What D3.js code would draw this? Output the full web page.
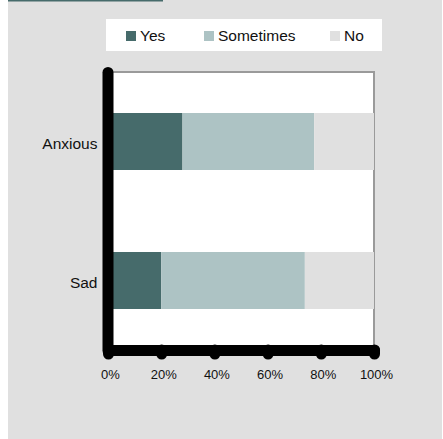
<!DOCTYPE html>
<html>
<head>
<meta charset="utf-8">
<script src="https://cdn.jsdelivr.net/npm/d3@7"></script>
<style>
  html, body { margin: 0; padding: 0; background: #ffffff; }
  svg { display: block; }
  text { font-family: "Liberation Sans", Arial, sans-serif; fill: #111; }
</style>
</head>
<body>
<svg id="chart" width="443" height="439"></svg>
<script>
// Survey responses, share of respondents per answer
const categories = ["Anxious", "Sad"];
const answers = ["Yes", "Sometimes", "No"];
const yesValues = [0.28, 0.20];
const sometimesValues = [0.495, 0.54];
const noValues = [0.225, 0.26];
const tickValues = [0, 0.2, 0.4, 0.6, 0.8, 1];

const colors = { Yes: "#466b6b", Sometimes: "#adc3c4", No: "#e0e0e0" };

const rows = categories.map((c, i) => ({
  category: c,
  Yes: yesValues[i],
  Sometimes: sometimesValues[i],
  No: noValues[i]
}));

const svg = d3.select("#chart");
const W = 443, H = 439;

// panel background and header rule
svg.append("rect").attr("x", 8).attr("y", 0).attr("width", W - 9).attr("height", H)
  .attr("fill", "#e0e0e0");
svg.append("rect").attr("x", 8).attr("y", 0).attr("width", 155).attr("height", 1.5)
  .attr("fill", "#466b6b");

const plot = { left: 108, right: 374, top: 72, bottom: 350 };

const x = d3.scaleLinear().domain([0, 1]).range([plot.left, plot.right]);
const y = d3.scaleBand().domain(categories).range([plot.top, plot.bottom])
  .paddingInner(0.59).paddingOuter(0.295);

// plot area
svg.append("rect")
  .attr("x", plot.left).attr("y", plot.top)
  .attr("width", plot.right - plot.left).attr("height", plot.bottom - plot.top)
  .attr("fill", "#ffffff").attr("stroke", "#9a9a9a").attr("stroke-width", 2);

// stacked bars
const stacked = d3.stack().keys(answers)(rows);
svg.append("g").selectAll("g").data(stacked).join("g")
  .attr("fill", d => colors[d.key])
  .selectAll("rect").data(d => d).join("rect")
  .attr("x", d => x(d[0]))
  .attr("y", d => y(d.data.category))
  .attr("width", d => x(d[1]) - x(d[0]))
  .attr("height", y.bandwidth());

// x axis
const xAxis = svg.append("g")
  .attr("transform", `translate(0,${plot.bottom})`)
  .call(d3.axisBottom(x).tickValues(tickValues).tickFormat(d3.format(".0%"))
    .tickSize(4).tickSizeOuter(0).tickPadding(16));
xAxis.select(".domain").attr("stroke", "#000").attr("stroke-width", 11)
  .attr("stroke-linecap", "round");
xAxis.selectAll(".tick line").attr("stroke", "#000").attr("stroke-width", 11)
  .attr("stroke-linecap", "round");
xAxis.selectAll(".tick text")
  .attr("font-size", 13).attr("dx", 2)
  .style("font-family", "'Liberation Sans', Arial, sans-serif").attr("fill", "#111");

// y axis
const yAxis = svg.append("g")
  .attr("transform", `translate(${plot.left - 0.5},0)`)
  .call(d3.axisLeft(y).tickSize(0).tickSizeOuter(0).tickPadding(10));
yAxis.select(".domain").attr("stroke", "#000").attr("stroke-width", 11)
  .attr("stroke-linecap", "round");
yAxis.selectAll(".tick text")
  .attr("font-size", 15.5).attr("dy", "0.5em")
  .style("font-family", "'Liberation Sans', Arial, sans-serif").attr("fill", "#111");

// legend
const legend = svg.append("g");
legend.append("rect").attr("x", 106).attr("y", 19).attr("width", 276).attr("height", 32)
  .attr("fill", "#ffffff");
const legendX = [126, 204, 330];
const items = legend.selectAll("g.item").data(answers).join("g")
  .attr("class", "item")
  .attr("transform", (d, i) => `translate(${legendX[i]},31)`);
items.append("rect").attr("width", 10).attr("height", 10).attr("fill", d => colors[d]);
items.append("text").attr("x", 14).attr("y", 10).attr("font-size", 15.5).text(d => d);
</script>
</body>
</html>
